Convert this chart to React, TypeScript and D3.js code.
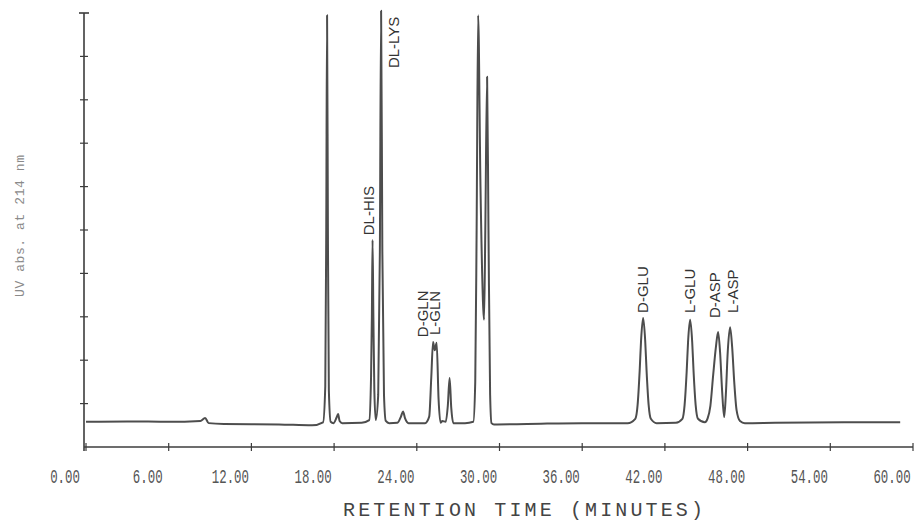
import React from "react";
import * as d3 from "d3";

// chromatogram trace: [retention time (min), absorbance (arb. units)]
const trace: [number, number][] = [
  [0.0, 0.58], [3.0, 0.59], [6.0, 0.58], [8.3, 0.6], [8.64, 0.67], [8.9, 0.55],
  [10.0, 0.53], [14.0, 0.52], [16.4, 0.5], [17.2, 0.57], [17.36, 1.4], [17.43, 5.0],
  [17.49, 9.95], [17.55, 5.0], [17.62, 1.3], [17.75, 0.58], [17.95, 0.55], [18.18, 0.68],
  [18.29, 0.76], [18.4, 0.6], [18.6, 0.55], [20.0, 0.56], [20.55, 0.62], [20.68, 1.6],
  [20.74, 3.0], [20.79, 4.77], [20.85, 3.0], [20.92, 1.3], [21.02, 0.62], [21.2, 1.2],
  [21.32, 4.5], [21.41, 10.05], [21.5, 4.5], [21.62, 1.2], [21.75, 0.6], [22.0, 0.55],
  [22.6, 0.56], [22.85, 0.7], [23.0, 0.82], [23.15, 0.66], [23.4, 0.55], [24.6, 0.55],
  [24.9, 0.7], [25.05, 1.6], [25.18, 2.42], [25.3, 2.23], [25.44, 2.4], [25.58, 1.1],
  [25.72, 0.56], [25.85, 0.6], [26.1, 0.58], [26.25, 0.95], [26.38, 1.59], [26.5, 0.9],
  [26.65, 0.55], [27.5, 0.55], [28.1, 0.58], [28.24, 1.5], [28.34, 5.0], [28.45, 9.95],
  [28.62, 6.0], [28.82, 3.2], [28.88, 2.93], [28.97, 5.0], [29.1, 8.53], [29.2, 5.0],
  [29.32, 1.2], [29.42, 0.55], [29.6, 0.52], [32.0, 0.53], [36.0, 0.55], [39.3, 0.55],
  [39.85, 0.65], [40.02, 0.97], [40.17, 1.76], [40.27, 2.45], [40.42, 2.97], [40.57, 2.45],
  [40.67, 1.76], [40.82, 0.97], [40.98, 0.65], [41.4, 0.55], [42.8, 0.56], [43.27, 0.65],
  [43.43, 0.97], [43.58, 1.74], [43.68, 2.42], [43.83, 2.93], [43.98, 2.42], [44.08, 1.74],
  [44.23, 0.97], [44.4, 0.65], [44.9, 0.57], [45.1, 0.66], [45.3, 0.95], [45.5, 1.65],
  [45.7, 2.3], [45.86, 2.65], [46.0, 2.2], [46.15, 1.3], [46.3, 0.69], [46.42, 1.2],
  [46.56, 2.2], [46.73, 2.76], [46.88, 2.3], [47.03, 1.5], [47.2, 0.85], [47.45, 0.6],
  [47.8, 0.55], [50.0, 0.56], [55.0, 0.57], [59.07, 0.57],
];

const peakNames = ["DL-HIS", "DL-LYS", "D-GLN", "L-GLN", "D-GLU", "L-GLU", "D-ASP", "L-ASP"];
const labelTimes = [20.5, 22.35, 24.42, 25.35, 40.42, 43.83, 45.65, 46.95];
const labelLevels = [4.88, 8.73, 2.53, 2.58, 3.09, 3.09, 2.97, 3.09];

const xTicks = [0, 6, 12, 18, 24, 30, 36, 42, 48, 54, 60];
const yTicks = [0, 1, 2, 3, 4, 5, 6, 7, 8, 9, 10];

const W = 914;
const H = 523;

export default function App() {
  const x = d3.scaleLinear().domain([0, 60]).range([86, 913]);
  const y = d3.scaleLinear().domain([0, 10]).range([447, 13]);

  const line = d3
    .line<[number, number]>()
    .x((d) => x(d[0]))
    .y((d) => y(d[1]))
    .curve(d3.curveMonotoneX);

  const axisColor = "#3c3c3c";
  const fmt = d3.format(".2f");

  return (
    <div style={{ position: "absolute", left: 0, top: 0 }}>
      <svg width={W} height={H} style={{ display: "block", background: "#fff" }}>
        {/* y axis */}
        <line x1={84} x2={84} y1={y(10)} y2={451} stroke={axisColor} strokeWidth={1.6} />
        <line x1={79} x2={89} y1={y(10)} y2={y(10)} stroke={axisColor} strokeWidth={1.6} />
        {yTicks.slice(1, -1).map((t) => (
          <line key={t} x1={80} x2={88} y1={y(t)} y2={y(t)} stroke={axisColor} strokeWidth={1.2} />
        ))}

        {/* x axis */}
        <line x1={84} x2={913} y1={y(0)} y2={y(0)} stroke={axisColor} strokeWidth={1.6} />
        {xTicks.map((t) => (
          <g key={t}>
            <line x1={x(t)} x2={x(t)} y1={y(0) - 4} y2={y(0) + 4} stroke={axisColor} strokeWidth={1.2} />
            <text
              transform={`translate(${x(t) - 21},483) scale(0.62,1)`}
              textAnchor="middle"
              fontFamily="'Liberation Mono', monospace"
              fontSize={20}
              fill="#555"
            >
              {fmt(t)}
            </text>
          </g>
        ))}

        <text
          x={523}
          y={516}
          textAnchor="middle"
          fontFamily="'Liberation Mono', monospace"
          fontSize={20}
          textLength={360}
          lengthAdjust="spacing"
          fill="#444"
        >
          RETENTION TIME (MINUTES)
        </text>

        <text
          transform="translate(24,226) rotate(-90)"
          textAnchor="middle"
          fontFamily="'Liberation Mono', monospace"
          fontSize={13}
          textLength={142}
          lengthAdjust="spacing"
          fill="#8a8a8a"
        >
          UV abs. at 214 nm
        </text>

        {/* trace */}
        <path d={line(trace) ?? ""} fill="none" stroke="#4d4d4d" strokeWidth={2} strokeLinejoin="round" />

        {/* peak labels */}
        {peakNames.map((name, i) => (
          <text
            key={name}
            transform={`translate(${x(labelTimes[i]) + 5},${y(labelLevels[i])}) rotate(-90)`}
            fontFamily="'Liberation Sans', Arial, sans-serif"
            fontSize={15}
            fill="#333"
          >
            {name}
          </text>
        ))}
      </svg>
    </div>
  );
}
